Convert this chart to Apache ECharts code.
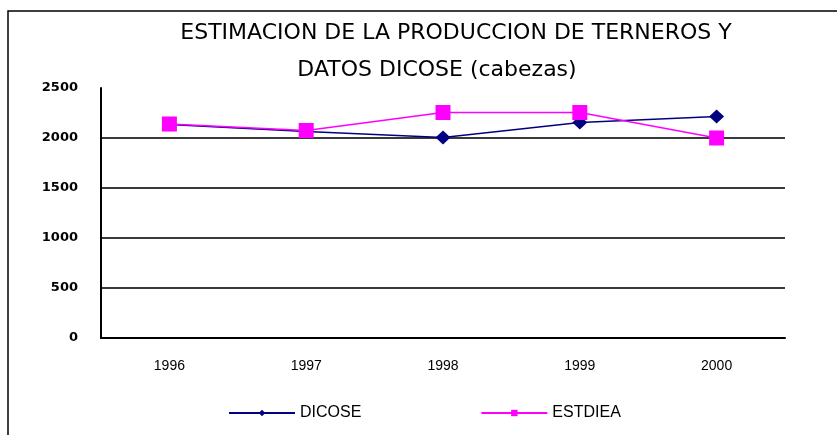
<!DOCTYPE html>
<html>
<head>
<meta charset="utf-8">
<script src="https://cdn.jsdelivr.net/npm/echarts@6/dist/echarts.min.js"></script>
<style>
  html, body { margin: 0; padding: 0; background: #fff; }
  #chart { width: 837px; height: 435px; }
</style>
</head>
<body>
<div id="chart"></div>
<script>
var years = ['1996', '1997', '1998', '1999', '2000'];
var dicose = [2135, 2065, 2005, 2155, 2215];
var estdiea = [2140, 2075, 2255, 2255, 2000];

var titleStyle = {
    fontFamily: 'DejaVu Sans',
    fontSize: 22,
    fontWeight: 'normal',
    color: '#000'
};

var myChart = echarts.init(document.getElementById('chart'));
var option = {
    backgroundColor: '#fff',
    animation: false,
    title: [{
        text: 'ESTIMACION DE LA PRODUCCION DE TERNEROS Y',
        left: 451,
        top: 17,
        textAlign: 'center',
        textStyle: titleStyle
    }, {
        text: 'DATOS DICOSE (cabezas)',
        left: 432,
        top: 54,
        textAlign: 'center',
        textStyle: titleStyle
    }],
    graphic: {
        elements: [{
            type: 'rect', // marco exterior
            shape: { x: 8, y: 11, width: 900, height: 500 },
            style: { fill: 'none', stroke: '#000', lineWidth: 1.5 },
            silent: true
        }]
    },
    legend: {
        left: 223,
        top: 400,
        itemWidth: 66,
        itemHeight: 8,
        itemGap: 119,
        textStyle: { fontFamily: 'Arial', fontSize: 16, color: '#000' },
        data: ['DICOSE', 'ESTDIEA']
    },
    grid: {
        left: 101,
        right: 52,
        top: 88,
        bottom: 97
    },
    xAxis: {
        type: 'category',
        data: years,
        boundaryGap: true,
        axisLine: { lineStyle: { color: '#000', width: 2 } },
        axisTick: { show: false },
        axisLabel: { margin: 21, fontFamily: 'Arial', fontSize: 14, color: '#000' }
    },
    yAxis: {
        type: 'value',
        min: 0,
        max: 2500,
        interval: 500,
        axisLine: { show: true, lineStyle: { color: '#000', width: 2 } },
        axisTick: { show: false },
        axisLabel: {
            margin: 23,
            fontFamily: 'DejaVu Sans',
            fontWeight: 'bold',
            fontSize: 13,
            color: '#000',
            formatter: function (v) { return String(v); }
        },
        splitLine: { showMaxLine: false, lineStyle: { color: '#3a3a3a', width: 2 } }
    },
    series: [
        {
            name: 'DICOSE',
            type: 'line',
            data: dicose,
            symbol: 'diamond',
            symbolSize: [15, 14],
            color: '#000080',
            lineStyle: { color: '#000080', width: 1.5 },
            itemStyle: { color: '#000080' }
        },
        {
            name: 'ESTDIEA',
            type: 'line',
            data: estdiea,
            symbol: 'rect',
            symbolSize: 15,
            color: '#ff00ff',
            lineStyle: { color: '#ff00ff', width: 1.5 },
            itemStyle: { color: '#ff00ff' }
        }
    ]
};
myChart.setOption(option);
</script>
</body>
</html>
